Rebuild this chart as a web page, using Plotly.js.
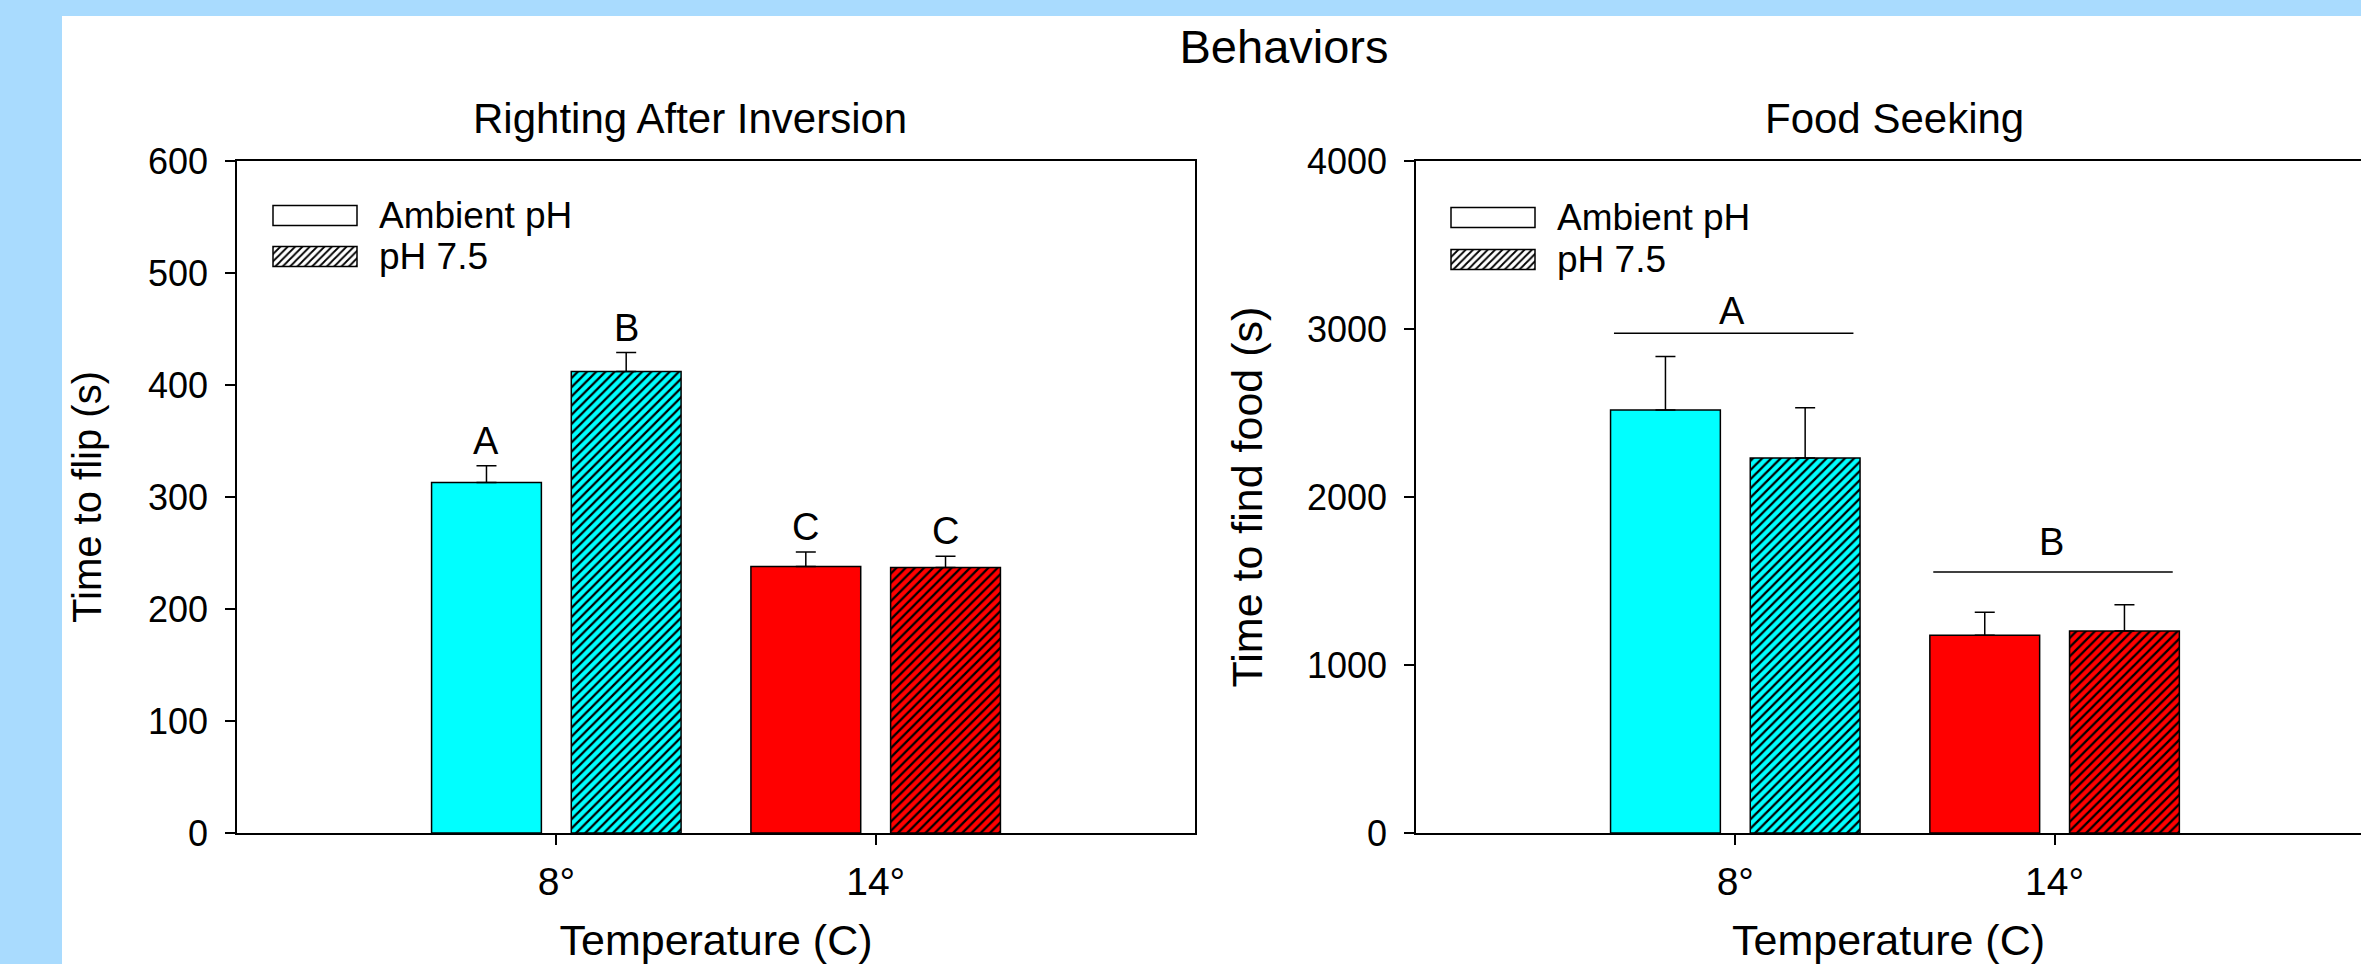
<!DOCTYPE html>
<html>
<head>
<meta charset="utf-8">
<script src="https://cdn.plot.ly/plotly-3.0.1.min.js"></script>
<style>
html, body { margin: 0; padding: 0; background: #fff; }
#chart { width: 2361px; height: 964px; }
</style>
</head>
<body>
<div id="chart"></div>
<script>
// ---------------- data ----------------
const temperatures = ['8°', '14°'];
const seriesNames = ['Ambient pH', 'pH 7.5'];
const tempColors = ['#00FFFF', '#FF0000'];

// Righting After Inversion: time to flip (s)
const flipAmbient = [313, 238];
const flipAmbientErr = [15, 13];
const flipLow = [412, 237];
const flipLowErr = [17, 10];
const flipAmbientLetters = ['A', 'C'];
const flipLowLetters = ['B', 'C'];

// Food Seeking: time to find food (s)
const foodAmbient = [2518, 1177];
const foodAmbientErr = [318, 137];
const foodLow = [2232, 1203];
const foodLowErr = [299, 156];
const foodGroupLetters = ['A', 'B'];
const foodGroupLineY = [2975, 1554];
const foodGroupLetterY = [3025, 1651];

// ---------------- layout helpers ----------------
const W = 2361, H = 964;
const px = v => v / W;
const py = v => 1 - v / H;
const FONT = '"Liberation Sans", Arial, Helvetica, sans-serif';
const BARGAP = 0.125, BARGROUPGAP = 0.214;
const slot = (1 - BARGAP) / 2;
const catIdx = temperatures.map((_, i) => i);

function hatch(bg) {
  return { shape: '/', fillmode: 'replace', bgcolor: bg, fgcolor: '#000000', fgopacity: 1, size: 6.5, solidity: 0.35 };
}
// one trace per temperature so every bar keeps its own colour under the hatch
function seriesTraces(vals, errs, name, s, xa, ya) {
  return catIdx.map(i => {
    const marker = { color: tempColors[i], line: { color: '#000', width: 1.5 } };
    if (s === 1) marker.pattern = hatch(tempColors[i]);
    return {
      type: 'bar', name: name, x: [catIdx[i]], y: [vals[i]], xaxis: xa, yaxis: ya,
      offsetgroup: 'g' + s, marker: marker, showlegend: false, hoverinfo: 'skip',
      error_y: { type: 'data', array: [errs[i]], arrayminus: [0], symmetric: false,
                 visible: true, color: '#000', thickness: 1.5, width: 10 }
    };
  });
}
function legendTrace(name, hatched, legendId) {
  const marker = { color: '#FFFFFF', line: { color: '#000', width: 1.5 } };
  if (hatched) marker.pattern = hatch('#FFFFFF');
  return { type: 'bar', name: name, x: [null], y: [null], xaxis: 'x3', yaxis: 'y3',
           marker: marker, showlegend: true, legend: legendId, hoverinfo: 'skip' };
}

const data = [].concat(
  seriesTraces(flipAmbient, flipAmbientErr, seriesNames[0], 0, 'x', 'y'),
  seriesTraces(flipLow, flipLowErr, seriesNames[1], 1, 'x', 'y'),
  seriesTraces(foodAmbient, foodAmbientErr, seriesNames[0], 0, 'x2', 'y2'),
  seriesTraces(foodLow, foodLowErr, seriesNames[1], 1, 'x2', 'y2'),
  [legendTrace(seriesNames[0], false, 'legend'),
   legendTrace(seriesNames[1], true, 'legend2'),
   legendTrace(seriesNames[0], false, 'legend3'),
   legendTrace(seriesNames[1], true, 'legend4')]
);

const annotations = [];
// letters over the righting bars
[[flipAmbient, flipAmbientErr, flipAmbientLetters, 0], [flipLow, flipLowErr, flipLowLetters, 1]].forEach(([v, e, L, s]) => {
  v.forEach((val, i) => {
    annotations.push({ xref: 'x', yref: 'y', x: i + (s - 0.5) * slot, y: val + e[i],
      text: L[i], showarrow: false, yanchor: 'bottom', yshift: 2,
      font: { family: FONT, size: 38, color: '#000' } });
  });
});
// group letters for food seeking
foodGroupLetters.forEach((L, i) => {
  annotations.push({ xref: 'x2', yref: 'y2', x: i - 0.01, y: foodGroupLetterY[i],
    text: L, showarrow: false, yanchor: 'bottom', yshift: -9,
    font: { family: FONT, size: 38, color: '#000' } });
});
// panel titles
annotations.push({ xref: 'paper', yref: 'paper', x: px(690), y: py(144), xanchor: 'center', yanchor: 'bottom',
  text: 'Righting After Inversion', showarrow: false, font: { family: FONT, size: 42, color: '#000' } });
annotations.push({ xref: 'paper', yref: 'paper', x: px(1894), y: py(144), xanchor: 'center', yanchor: 'bottom',
  text: 'Food Seeking', showarrow: false, font: { family: FONT, size: 42, color: '#000' } });

const shapes = [
  { type: 'rect', xref: 'paper', yref: 'paper', x0: px(62), x1: 1, y0: 0, y1: py(16),
    fillcolor: '#FFFFFF', line: { width: 0 }, layer: 'below' }
];
foodGroupLineY.forEach((yv, i) => {
  shapes.push({ type: 'line', xref: 'x2', yref: 'y2', x0: i - 0.38, x1: i + 0.37, y0: yv, y1: yv,
    line: { color: '#000', width: 1.5 } });
});

function xAxis(domain, range, anchor) {
  return {
    domain: domain, range: range, anchor: anchor, type: 'linear',
    tickvals: catIdx, ticktext: temperatures, ticks: 'outside', ticklen: 10, tickwidth: 1.5, tickcolor: '#000',
    showline: true, linecolor: '#000', linewidth: 1.5, mirror: true,
    showgrid: false, zeroline: false, automargin: false, fixedrange: true,
    tickfont: { family: FONT, size: 39, color: '#000' }, ticklabelstandoff: 3,
    title: { text: 'Temperature (C)', font: { family: FONT, size: 43, color: '#000' }, standoff: 48 }
  };
}
function yAxis(domain, range, dtick, anchor, title, titleSize, standoff, mirror) {
  return {
    domain: domain, range: range, dtick: dtick, anchor: anchor,
    ticks: 'outside', ticklen: 10, tickwidth: 1.5, tickcolor: '#000',
    showline: true, linecolor: '#000', linewidth: 1.5, mirror: mirror,
    showgrid: false, zeroline: false, automargin: false, fixedrange: true,
    tickfont: { family: FONT, size: 36, color: '#000' }, ticklabelstandoff: 10,
    title: { text: title, font: { family: FONT, size: titleSize, color: '#000' }, standoff: standoff }
  };
}
function legendAt(xpx, topPx) {
  return { xref: 'paper', yref: 'paper', x: px(xpx), y: py(topPx), xanchor: 'left', yanchor: 'top',
    bgcolor: 'rgba(0,0,0,0)', borderwidth: 0, itemwidth: 100, itemclick: false, itemdoubleclick: false,
    font: { family: FONT, size: 37, color: '#000' } };
}

const yDom = [py(833), py(161)];
const layout = {
  width: W, height: H,
  margin: { l: 0, r: 0, t: 0, b: 0, pad: 0, autoexpand: false },
  paper_bgcolor: '#A9DBFE', plot_bgcolor: 'rgba(0,0,0,0)',
  font: { family: FONT, color: '#000' },
  title: { text: 'Behaviors', font: { family: FONT, size: 47, color: '#000' },
           xref: 'container', yref: 'container', x: px(1284), xanchor: 'center', y: py(46.6), yanchor: 'middle' },
  barmode: 'group', bargap: BARGAP, bargroupgap: BARGROUPGAP,
  xaxis: xAxis([px(237), px(1195)], [-1, 2], 'y'),
  yaxis: yAxis(yDom, [0, 600], 100, 'x', 'Time to flip (s)', 40, 34, true),
  xaxis2: xAxis([px(1416), 1], [-1, -1 + 945 / 319.3], 'y2'),
  yaxis2: yAxis(yDom, [0, 4000], 1000, 'x2', 'Time to find food (s)', 43, 31, false),
  xaxis3: { domain: [0.5, 0.505], visible: false, anchor: 'y3' },
  yaxis3: { domain: [0.5, 0.505], visible: false, anchor: 'x3' },
  legend: legendAt(269, 183),
  legend2: legendAt(269, 224),
  legend3: legendAt(1447, 185),
  legend4: legendAt(1447, 227),
  annotations: annotations,
  shapes: shapes,
  hovermode: false
};

Plotly.newPlot('chart', data, layout, { displayModeBar: false }).then(gd => {
  // widen the legend swatches to the long rectangles used in the original figure
  gd.querySelectorAll('g.legendpoints path').forEach(p => {
    p.setAttribute('d', 'M33,12H-51V-8H33Z');
  });
});
</script>
</body>
</html>
